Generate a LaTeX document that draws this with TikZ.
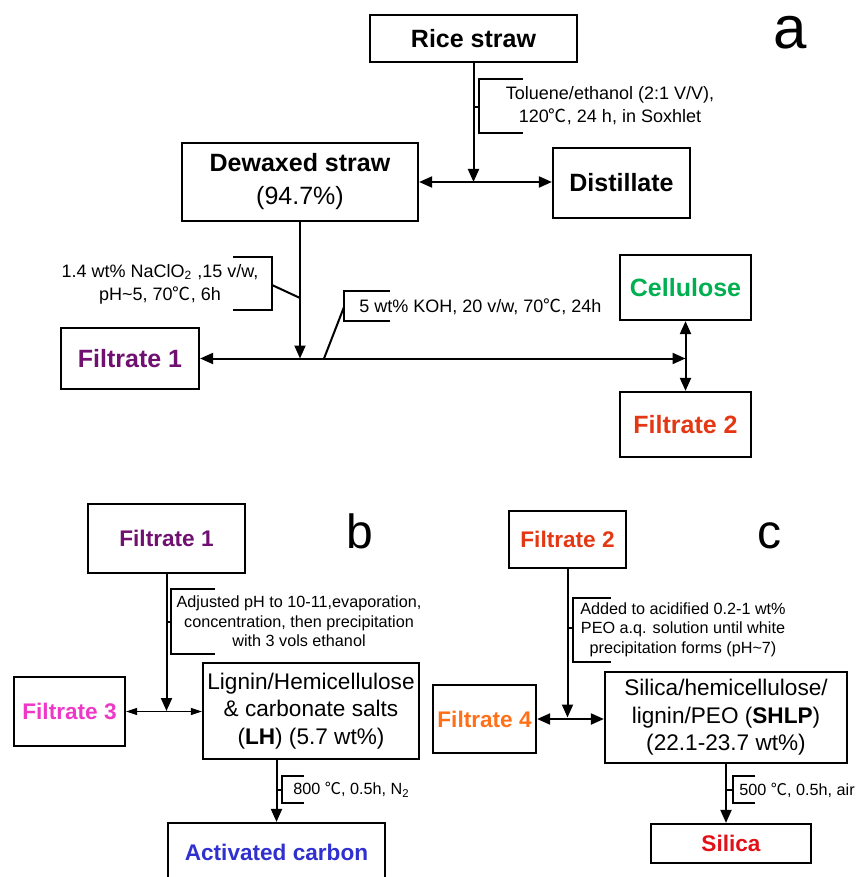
\documentclass[tikz,border=0pt]{standalone}
\usepackage{fontspec}
\setmainfont{Liberation Sans}
\newfontfamily\cjkfont{Noto Sans CJK SC}
\usepackage{xcolor}
\usepackage{tikz}
\usetikzlibrary{positioning, arrows.meta}
\definecolor{txtpurple}{RGB}{112,16,112}
\definecolor{txtgreen}{RGB}{0,176,80}
\definecolor{txtred}{RGB}{228,56,20}
\definecolor{txtpink}{RGB}{238,56,200}
\definecolor{txtorange}{RGB}{255,112,24}
\definecolor{txtblue}{RGB}{48,48,208}
\definecolor{txtsilica}{RGB}{226,16,24}
\newcommand{\degc}{{\cjkfont ℃}}

\begin{document}
\begin{tikzpicture}[
  x=0.5pt, y=-0.5pt,
  box/.style={rectangle, draw, line width=1.1pt, inner sep=0pt, align=center},
  lgtext/.style={font=\fontsize{12.5}{16.5}\selectfont},
  mdtext/.style={font=\fontsize{11.3}{13.75}\selectfont},
  notetext/.style={font=\fontsize{9}{11.5}\selectfont, align=center},
  notesmall/.style={font=\fontsize{8.1}{9.75}\selectfont, align=center},
  flowarrow/.style={line width=1pt, -{Triangle[length=6.5pt,width=5.5pt]}},
  twoarrow/.style={line width=1pt, {Triangle[length=6.5pt,width=5.5pt]}-{Triangle[length=6.5pt,width=5.5pt]}},
  thinarrow/.style={line width=0.5pt, {Triangle[length=5.5pt,width=3.5pt]}-{Triangle[length=5.5pt,width=3.5pt]}},
  bracketline/.style={line width=1pt}
]
\clip (0,0) rectangle (857,877);

% panel a
\node[box, lgtext, minimum width=103.5pt, minimum height=23.5pt] (rice) at (473.5,38.5) {\bfseries Rice straw};
\node[box, lgtext, minimum width=118pt, minimum height=39pt] (dewax) at (300,182) {\textbf{Dewaxed straw}\\(94.7\%)};
\node[box, lgtext, minimum width=68.5pt, minimum height=35pt] (distill) at (621.5,183) {\bfseries Distillate};
\node[box, lgtext, minimum width=69pt, minimum height=30.5pt, text=txtpurple] (filtA) at (130,358.5) {\bfseries Filtrate 1};
\node[box, lgtext, minimum width=65.5pt, minimum height=32.5pt, text=txtgreen] (cell) at (685.5,287.5) {\bfseries Cellulose};
\node[box, lgtext, minimum width=65.5pt, minimum height=32.5pt, text=txtred] (filtB) at (685.5,424.5) {\bfseries Filtrate 2};
\node[font=\fontsize{30}{30}\selectfont] (lbla) at (790,33) {a};

\coordinate (ja) at (rice.south |- dewax.east);
\draw[flowarrow] (rice.south) -- (ja);
\draw[twoarrow] (dewax.east) -- (dewax.east -| distill.west);
\draw[bracketline] (523,79) -- (479,79) -- (479,133) -- (523,133);
\draw[bracketline] (473.5,107) -- (479,107);
\node[notetext] (soxtext) at (610,106) {Toluene/ethanol (2:1 V/V),\\120\degc, 24 h, in Soxhlet};

\coordinate (jb) at (cell.south |- filtA.east);
\draw[flowarrow] (dewax.south) -- (dewax.south |- filtA.east);
\draw[twoarrow] (filtA.east) -- (jb);
\draw[twoarrow] (cell.south) -- (filtB.north);
\draw[bracketline] (233,257) -- (272,257) -- (272,310) -- (233,310);
\draw[bracketline] (272,285) -- (300,298);
\node[notetext] (naclotext) at (160,284.5) {1.4 wt\% NaClO\textsubscript{2} ,15 v/w,\\pH\textasciitilde5, 70\degc, 6h};
\draw[bracketline] (390,291) -- (344,291) -- (344,321) -- (390,321);
\draw[bracketline] (344,307) -- (324,358.5);
\node[notetext, anchor=west, inner sep=0pt] (kohtext) at (359,307) {5 wt\% KOH, 20 v/w, 70\degc, 24h};

% panel b
\node[box, mdtext, minimum width=78.5pt, minimum height=34.5pt, text=txtpurple] (filt1b) at (166.5,538.5) {\bfseries Filtrate 1};
\node[box, mdtext, minimum width=55.5pt, minimum height=34.5pt, text=txtpink] (filt3) at (69.5,711.5) {\bfseries Filtrate 3};
\node[box, mdtext, minimum width=108pt, minimum height=48pt] (lh) at (311,711) {Lignin/Hemicellulose\\\& carbonate salts\\(\textbf{LH}) (5.7 wt\%)};
\node[box, mdtext, minimum width=108.5pt, minimum height=29pt, text=txtblue] (actc) at (276.5,852) {\bfseries Activated carbon};
\node[font=\fontsize{24}{24}\selectfont] (lblb) at (360,531.5) {b};

\draw[flowarrow] (filt1b.south) -- (filt1b.south |- lh.west);
\draw[thinarrow] (filt3.east) -- (filt3.east -| lh.west);
\draw[flowarrow] (lh.south -| actc.north) -- (actc.north);
\draw[bracketline] (215,589) -- (171,589) -- (171,654) -- (215,654);
\draw[bracketline] (166.5,622) -- (171,622);
\node[notesmall] (adjtext) at (299,621.5) {Adjusted pH to 10-11,evaporation,\\concentration, then precipitation\\with 3 vols ethanol};
\draw[bracketline] (304,776) -- (282,776) -- (282,803) -- (304,803);
\draw[bracketline] (276.5,790) -- (282,790);
\node[notesmall, anchor=west, inner sep=0pt] (n2text) at (293,790) {800 \degc, 0.5h, N\textsubscript{2}};

% panel c
\node[box, mdtext, minimum width=58.5pt, minimum height=28.5pt, text=txtred] (filt2c) at (567.5,539.5) {\bfseries Filtrate 2};
\node[box, mdtext, minimum width=51.5pt, minimum height=34pt, text=txtorange] (filt4) at (484.5,719) {\bfseries Filtrate 4};
\node[box, mdtext, minimum width=121pt, minimum height=45.5pt] (shlp) at (726,717.5) {Silica/hemicellulose/\\lignin/PEO (\textbf{SHLP})\\(22.1-23.7 wt\%)};
\node[box, mdtext, minimum width=80pt, minimum height=19.5pt, text=txtsilica] (silica) at (731,843.5) {\bfseries Silica};
\node[font=\fontsize{24}{24}\selectfont] (lblc) at (769,535.5) {c};

\draw[flowarrow] (filt2c.south) -- (filt2c.south |- shlp.west);
\draw[twoarrow] (filt4.east) -- (filt4.east -| shlp.west);
\draw[flowarrow] (shlp.south) -- (shlp.south |- silica.north);
\draw[bracketline] (611,598) -- (573,598) -- (573,662) -- (611,662);
\draw[bracketline] (567.5,628) -- (573,628);
\node[notesmall] (peotext) at (683,629.5) {Added to acidified 0.2-1 wt\%\\PEO a.q. solution until white\\precipitation forms (pH\textasciitilde7)};
\draw[bracketline] (755,776) -- (733,776) -- (733,803) -- (755,803);
\draw[bracketline] (726,790) -- (733,790);
\node[notesmall, anchor=west, inner sep=0pt] (airtext) at (739,790) {500 \degc, 0.5h, air};
\end{tikzpicture}
\end{document}
